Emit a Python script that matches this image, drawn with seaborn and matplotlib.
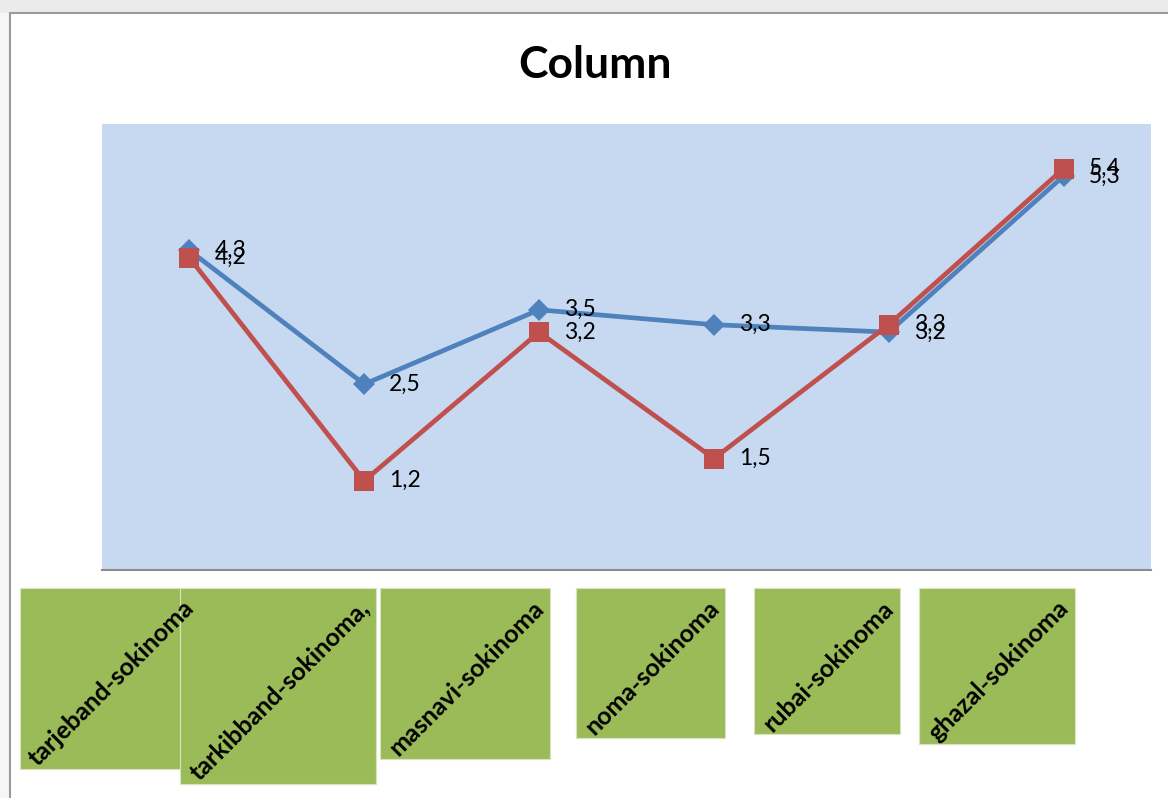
import matplotlib
matplotlib.use("Agg")
import matplotlib.pyplot as plt
import seaborn as sns
import pandas as pd
from matplotlib.patches import Rectangle
from matplotlib.lines import Line2D

# ---- data ----
categories = ["tarjeband-sokinoma", "tarkibband-sokinoma,", "masnavi-sokinoma",
              "noma-sokinoma", "rubai-sokinoma", "ghazal-sokinoma"]
series1_values = [4.3, 2.5, 3.5, 3.3, 3.2, 5.3]
series2_values = [4.2, 1.2, 3.2, 1.5, 3.3, 5.4]
title_text = "Column"

sns.set_style("white")
plt.rcParams["font.family"] = ["Lato", "DejaVu Sans"]

W, H = 1168, 798
fig = plt.figure(figsize=(W / 100, H / 100), dpi=100)
fig.patch.set_facecolor("white")

# outer chart frame (as in the screenshot)
fig.patches.append(Rectangle((0, 1 - 13 / H), 1, 13 / H, transform=fig.transFigure,
                             facecolor="#EBEBEB", edgecolor="none", zorder=-5))
fig.patches.append(Rectangle((0, 0), 10 / W, 1 - 13 / H, transform=fig.transFigure,
                             facecolor="#F6F6F6", edgecolor="none", zorder=-5))
fig.add_artist(Line2D([10 / W, 10 / W], [0, 1 - 13 / H], transform=fig.transFigure,
                      color="#9A9A9A", lw=1.5, zorder=-4))
fig.add_artist(Line2D([10 / W, 1], [1 - 13 / H, 1 - 13 / H], transform=fig.transFigure,
                      color="#9A9A9A", lw=1.5, zorder=-4))

ax = fig.add_axes([102 / W, 1 - 570 / H, (1151 - 102) / W, (570 - 124) / H])
ax.set_facecolor("#C6D9F1")

df1 = pd.DataFrame({"cat": categories, "val": series1_values})
df2 = pd.DataFrame({"cat": categories, "val": series2_values})

sns.lineplot(data=df1, x="cat", y="val", ax=ax, color="#4F81BD", lw=3.4,
             marker="D", markersize=11, markeredgewidth=0, sort=False)
sns.lineplot(data=df2, x="cat", y="val", ax=ax, color="#C0504D", lw=3.4,
             marker="s", markersize=14.5, markeredgewidth=0, sort=False)

ax.set_xlim(-0.5, len(categories) - 0.5)
ax.set_ylim(0, 6)
ax.set_xlabel("")
ax.set_ylabel("")
ax.set_yticks([])
ax.set_xticks(range(len(categories)))
ax.set_xticklabels([])
ax.tick_params(axis="x", length=0)
for s in ["top", "left", "right"]:
    ax.spines[s].set_visible(False)
ax.spines["bottom"].set_color("#8C8C8C")
ax.spines["bottom"].set_linewidth(1.5)

# data labels
for vals in (series1_values, series2_values):
    for i, v in enumerate(vals):
        ax.annotate(f"{v}".replace(".", ","), xy=(i, v), xytext=(18, 0),
                    textcoords="offset points", ha="left", va="center",
                    fontsize=16.5, color="black", zorder=5)

# category labels (rotated), with green boxes
cat_texts = []
for i, c in enumerate(categories):
    t = ax.annotate(c, xy=(i, 0), xycoords=("data", "axes fraction"),
                    xytext=(-5, -19), textcoords="offset points",
                    rotation=45, rotation_mode="anchor", ha="right", va="top",
                    fontsize=18, fontweight="bold", color="black",
                    annotation_clip=False, zorder=5)
    cat_texts.append(t)

fig.suptitle(title_text, x=595 / W, y=1 - 45 / H, fontsize=32, fontweight="bold",
             color="black")

fig.canvas.draw()
renderer = fig.canvas.get_renderer()
axis_bottom_px = ax.get_window_extent(renderer).y0
box_top_px = axis_bottom_px - 18
for t in cat_texts:
    bb = t.get_window_extent(renderer)
    x0, x1 = bb.x0 - 5, bb.x1 + 2
    y0 = bb.y0 + 1
    fig.patches.append(Rectangle((x0 / W, y0 / H), (x1 - x0) / W, (box_top_px - y0) / H,
                                 transform=fig.transFigure, facecolor="#9BBB59",
                                 edgecolor="#D7E4BD", lw=0.8, zorder=-1))

fig.savefig("out.png", dpi=100)
